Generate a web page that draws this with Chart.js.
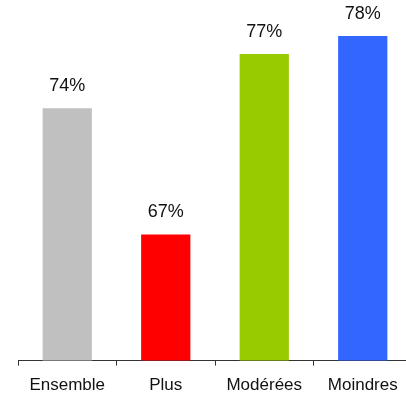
<!DOCTYPE html>
<html>
<head>
<meta charset="utf-8">
<script src="https://cdn.jsdelivr.net/npm/chart.js@4"></script>
<style>
html,body{margin:0;padding:0;background:#fff;overflow:hidden;width:406px;height:398px;}
#wrap{width:414px;height:406px;}
</style>
</head>
<body>
<div id="wrap"><canvas id="c" width="414" height="406"></canvas></div>
<script>
const categories = ["Ensemble", "Plus", "Modérées", "Moindres"];
const values = [74, 67, 77, 78];
const barColors = ["#C0C0C0", "#FF0000", "#99CC00", "#3366FF"];

const valueLabels = {
  id: 'valueLabels',
  afterDatasetsDraw(chart) {
    const ctx = chart.ctx;
    ctx.save();
    ctx.font = '18px "Liberation Sans", Arial, sans-serif';
    ctx.fillStyle = '#111';
    ctx.textAlign = 'center';
    ctx.textBaseline = 'middle';
    chart.getDatasetMeta(0).data.forEach((bar, i) => {
      ctx.fillText(values[i] + '%', bar.x, bar.y - 22);
    });
    ctx.restore();
  }
};

new Chart(document.getElementById('c'), {
  type: 'bar',
  data: {
    labels: categories,
    datasets: [{
      data: values,
      backgroundColor: barColors,
      borderWidth: 0,
      barPercentage: 0.5,
      categoryPercentage: 1.0
    }]
  },
  options: {
    responsive: false,
    animation: false,
    layout: { padding: { left: 18, right: 2, top: 0, bottom: 0 } },
    plugins: { legend: { display: false }, tooltip: { enabled: false } },
    scales: {
      y: { display: false, min: 60, max: 80 },
      x: {
        offset: true,
        border: { display: true, color: '#333', width: 1 },
        grid: { display: true, drawOnChartArea: false, drawTicks: true, tickLength: 5, color: '#333', offset: true },
        ticks: { color: '#111', padding: 10, font: { family: '"Liberation Sans", Arial, sans-serif', size: 17 }, maxRotation: 0 }
      }
    }
  },
  plugins: [valueLabels]
});
</script>
</body>
</html>
